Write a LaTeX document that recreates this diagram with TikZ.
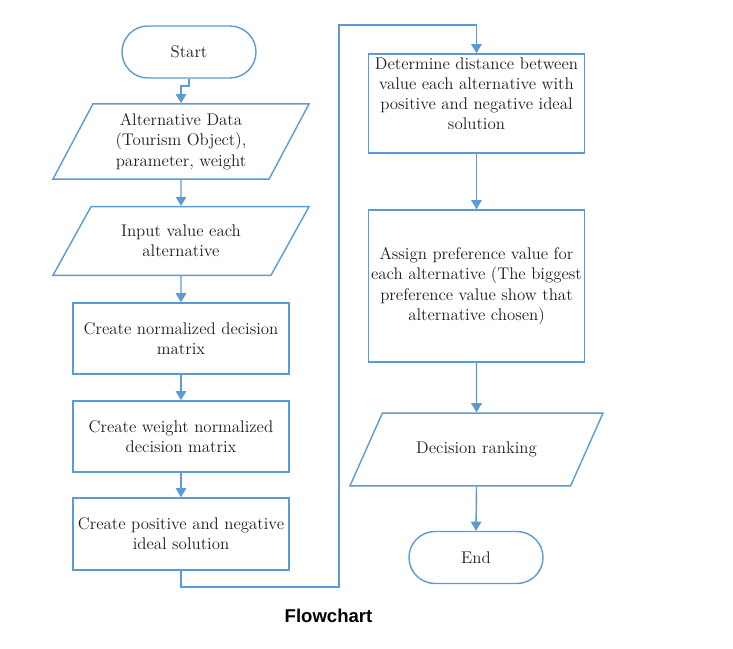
\documentclass[tikz,border=0pt]{standalone}
\usepackage{fontspec}
\setsansfont{Liberation Sans}
\usetikzlibrary{shapes.geometric,arrows.meta}
\definecolor{flowblue}{RGB}{91,155,213}
\definecolor{flowtext}{RGB}{30,30,30}
\begin{document}
\begin{tikzpicture}[x=0.025cm,y=-0.025cm,line width=1pt,
		flow/.style={draw=flowblue, text=flowtext, align=center, inner sep=2pt,
			font=\fontsize{12}{14.4}\selectfont},
		terminal/.style={flow, rectangle, rounded corners=0.65cm,
			minimum width=3.35cm, minimum height=1.3cm},
		process/.style={flow, rectangle, minimum width=5.4cm},
		io/.style={flow, trapezium, trapezium stretches body,
			trapezium left angle=#1, trapezium right angle={180-#1}},
		link/.style={draw=flowblue, -{Triangle[width=7.5pt,length=6.5pt]}}]
	
	% Frame (pixel units of the page)
	\useasboundingbox (0,0) rectangle (733,649);
	
	% Left column
	\node[terminal] (start) at (189,52) {Start};
	\node[io=62, minimum width=6.4cm, inner ysep=6.8pt] (data) at (181,141.5)
		{Alternative Data\\(Tourism Object),\\parameter, weight};
	\node[io=61, minimum width=6.4cm, inner ysep=13pt] (input) at (181,241)
		{Input value each\\alternative};
	\node[process, minimum height=1.775cm] (norm) at (181,338.5)
		{Create normalized decision\\matrix};
	\node[process, minimum height=1.775cm] (weight) at (181,436.5)
		{Create weight normalized\\decision matrix};
	\node[process, minimum height=1.8cm] (ideal) at (181,534)
		{Create positive and negative\\ideal solution};
	
	% Right column
	\node[process, minimum height=2.475cm, inner ysep=0pt, text depth=14pt] (distance) at (476.5,103.5)
		{Determine distance between\\value each alternative with\\positive and negative ideal\\solution};
	\node[process, minimum height=3.8cm] (preference) at (476.5,286)
		{Assign preference value for\\each alternative (The biggest\\preference value show that\\alternative chosen)};
	\node[io=66, minimum width=6.325cm, inner ysep=20.5pt] (ranking) at (476.5,449.5)
		{Decision ranking};
	\node[terminal] (end) at (476,557.5) {End};
	
	% Caption
	\node[font=\sffamily\bfseries\fontsize{13.2}{15}\selectfont, text=black] (caption)
		at (328.5,616) {Flowchart};
	
	% Connectors
	\coordinate (jog) at (189,86);
	\coordinate (turnlow) at (339,587);
	\coordinate (turnhigh) at (339,25);
	
	\draw[link] (start.south) -- (jog) -| (data.north);
	\draw[link] (data.south) -- (input.north);
	\draw[link] (input.south) -- (norm.north);
	\draw[link] (norm.south) -- (weight.north);
	\draw[link] (weight.south) -- (ideal.north);
	\draw[link] (ideal.south) |- (turnlow) -- (turnhigh) -| (distance.north);
	\draw[link] (distance.south) -- (preference.north);
	\draw[link] (preference.south) -- (ranking.north);
	\draw[link] (ranking.south) -- (end.north);
	
\end{tikzpicture}
\end{document}
